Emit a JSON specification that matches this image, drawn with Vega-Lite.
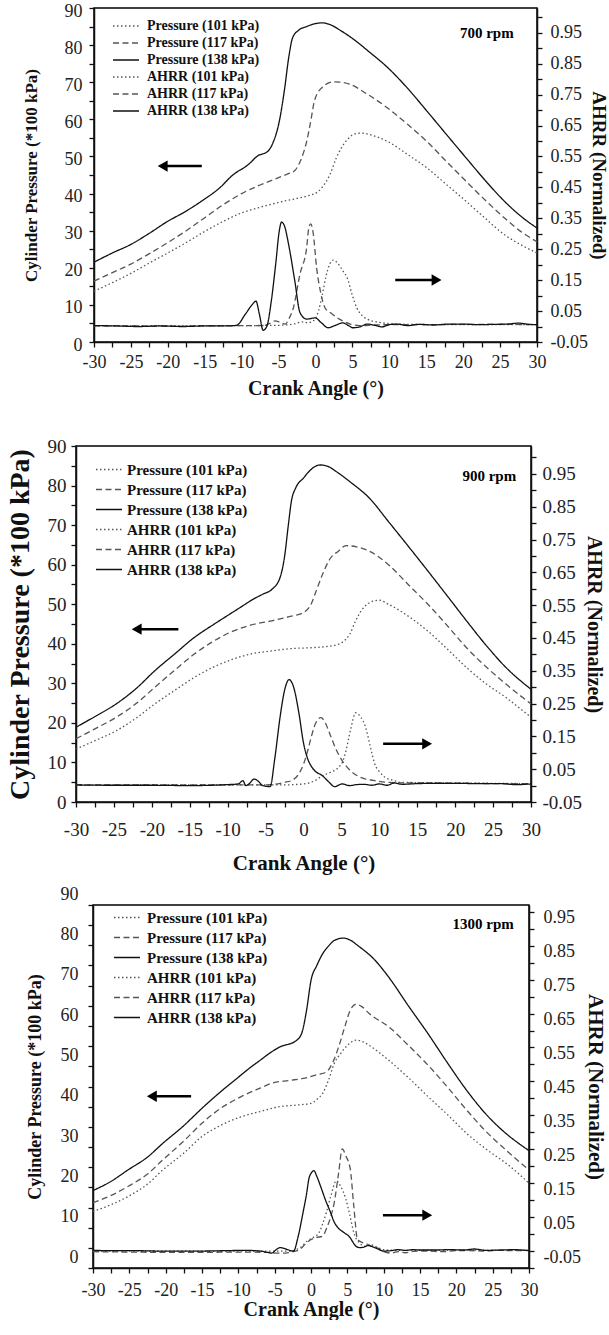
{
"$schema": "https://vega.github.io/schema/vega-lite/v6.json",
"padding": {"left": 5, "top": 1, "right": 0, "bottom": 0},
"background": "white",
"config": {
  "font": "Liberation Serif",
  "view": {"stroke": "black", "strokeWidth": 1.5},
  "axis": {"grid": false, "domainColor": "#111", "domainWidth": 1.5, "tickColor": "#111", "tickWidth": 1.3, "tickSize": 5, "labelColor": "#222", "titleColor": "#111", "labelFont": "Liberation Serif", "titleFont": "Liberation Serif", "titleFontWeight": "bold", "labelFlush": false, "labelOverlap": false, "labelBound": false},
  "legend": {"symbolType": "stroke", "symbolSize": 676, "symbolStrokeWidth": 1.4, "labelFont": "Liberation Serif", "labelFontWeight": "bold", "labelColor": "#111", "padding": 0, "labelLimit": 300},
  "title": {"font": "Liberation Serif"}
},
"datasets": {
"arrows": [
 {"panel": 700, "tail": -15.4, "head": -20.7, "p": 47.4, "dir": "left"},
 {"panel": 700, "tail": 10.8, "head": 16.4, "p": 16.7, "dir": "right"},
 {"panel": 900, "tail": -16.5, "head": -22.0, "p": 43.7, "dir": "left"},
 {"panel": 900, "tail": 10.5, "head": 16.3, "p": 14.7, "dir": "right"},
 {"panel": 1300, "tail": -16.5, "head": -21.9, "p": 42.6, "dir": "left"},
 {"panel": 1300, "tail": 9.9, "head": 16.0, "p": 13.1, "dir": "right"}
],
"notes": [
 {"panel": 700, "a": 23.2, "p": 83.3, "t": "700 rpm"},
 {"panel": 900, "a": 24.5, "p": 82.4, "t": "900 rpm"},
 {"panel": 1300, "a": 23.7, "p": 85.3, "t": "1300 rpm"}
],
"d700": [
{"s":"P101","a":-30,"v":13.7},{"s":"P101","a":-27.5,"v":16},{"s":"P101","a":-25,"v":18.5},{"s":"P101","a":-22.5,"v":21.3},{"s":"P101","a":-20,"v":24},{"s":"P101","a":-17.5,"v":26.8},{"s":"P101","a":-15,"v":29.8},{"s":"P101","a":-12.5,"v":32.5},{"s":"P101","a":-10,"v":34.8},{"s":"P101","a":-7.5,"v":36.3},{"s":"P101","a":-4.4,"v":37.9},{"s":"P101","a":-2.5,"v":38.7},{"s":"P101","a":-1.2,"v":39.3},{"s":"P101","a":0.4,"v":40.6},{"s":"P101","a":1.2,"v":42.5},{"s":"P101","a":2,"v":45.3},{"s":"P101","a":2.8,"v":49.5},{"s":"P101","a":3.5,"v":52.3},{"s":"P101","a":4.3,"v":54.5},{"s":"P101","a":5.1,"v":55.9},{"s":"P101","a":6.2,"v":56.3},{"s":"P101","a":7.5,"v":55.8},{"s":"P101","a":9.8,"v":54},{"s":"P101","a":12.5,"v":50.5},{"s":"P101","a":15.1,"v":46.9},{"s":"P101","a":17.7,"v":42.5},{"s":"P101","a":20.4,"v":37.9},{"s":"P101","a":23,"v":33.3},{"s":"P101","a":25.6,"v":28.9},{"s":"P101","a":28,"v":26},{"s":"P101","a":30,"v":24},
{"s":"P117","a":-30,"v":16.4},{"s":"P117","a":-27.5,"v":18.7},{"s":"P117","a":-25,"v":21},{"s":"P117","a":-22.5,"v":23.8},{"s":"P117","a":-20,"v":26.8},{"s":"P117","a":-17.5,"v":30},{"s":"P117","a":-15,"v":33.5},{"s":"P117","a":-12.5,"v":37},{"s":"P117","a":-10,"v":40},{"s":"P117","a":-7.5,"v":42.3},{"s":"P117","a":-5,"v":44.3},{"s":"P117","a":-3.5,"v":45.5},{"s":"P117","a":-2.8,"v":46.2},{"s":"P117","a":-2,"v":49},{"s":"P117","a":-1.2,"v":54},{"s":"P117","a":-0.6,"v":60},{"s":"P117","a":-0.2,"v":64.5},{"s":"P117","a":0.4,"v":67.5},{"s":"P117","a":0.9,"v":68.6},{"s":"P117","a":1.8,"v":69.8},{"s":"P117","a":2.5,"v":70.1},{"s":"P117","a":3.5,"v":70},{"s":"P117","a":4.6,"v":69.5},{"s":"P117","a":7,"v":66.8},{"s":"P117","a":9.8,"v":63},{"s":"P117","a":12.5,"v":58.6},{"s":"P117","a":15.1,"v":54},{"s":"P117","a":17.7,"v":48.7},{"s":"P117","a":20.4,"v":43.3},{"s":"P117","a":23,"v":38.2},{"s":"P117","a":25.6,"v":33.4},{"s":"P117","a":28,"v":29.5},{"s":"P117","a":30,"v":27},
{"s":"P138","a":-30,"v":21.5},{"s":"P138","a":-27.5,"v":24},{"s":"P138","a":-25,"v":26.3},{"s":"P138","a":-22.5,"v":29.3},{"s":"P138","a":-20.2,"v":32.3},{"s":"P138","a":-17.5,"v":35.3},{"s":"P138","a":-15.4,"v":38},{"s":"P138","a":-13,"v":41.5},{"s":"P138","a":-11.2,"v":45},{"s":"P138","a":-9.1,"v":47.8},{"s":"P138","a":-7.8,"v":50.2},{"s":"P138","a":-6.5,"v":51.3},{"s":"P138","a":-5.8,"v":53.5},{"s":"P138","a":-4.9,"v":59.5},{"s":"P138","a":-4.2,"v":68},{"s":"P138","a":-3.6,"v":77},{"s":"P138","a":-3.1,"v":82},{"s":"P138","a":-2.3,"v":84},{"s":"P138","a":-1.2,"v":85},{"s":"P138","a":0,"v":85.8},{"s":"P138","a":0.9,"v":86},{"s":"P138","a":2,"v":85.5},{"s":"P138","a":3.5,"v":83.8},{"s":"P138","a":5,"v":81.8},{"s":"P138","a":7.2,"v":78.3},{"s":"P138","a":9.8,"v":73.9},{"s":"P138","a":12.5,"v":68.3},{"s":"P138","a":15.1,"v":62.2},{"s":"P138","a":17.7,"v":56},{"s":"P138","a":20.4,"v":49.6},{"s":"P138","a":23,"v":43.5},{"s":"P138","a":25.6,"v":37.9},{"s":"P138","a":28,"v":33.6},{"s":"P138","a":30,"v":30.7},
{"s":"A101","a":-30,"v":0.002},{"s":"A101","a":-20,"v":0.002},{"s":"A101","a":-10,"v":0.003},{"s":"A101","a":-5,"v":0.004},{"s":"A101","a":-3,"v":0.008},{"s":"A101","a":-1.8,"v":0.015},{"s":"A101","a":-1,"v":0.012},{"s":"A101","a":-0.2,"v":0.02},{"s":"A101","a":0.4,"v":0.05},{"s":"A101","a":0.9,"v":0.1},{"s":"A101","a":1.4,"v":0.16},{"s":"A101","a":1.9,"v":0.2},{"s":"A101","a":2.4,"v":0.215},{"s":"A101","a":3.0,"v":0.205},{"s":"A101","a":3.7,"v":0.18},{"s":"A101","a":4.3,"v":0.157},{"s":"A101","a":5,"v":0.1},{"s":"A101","a":5.6,"v":0.06},{"s":"A101","a":6.3,"v":0.036},{"s":"A101","a":7,"v":0.024},{"s":"A101","a":8.3,"v":0.015},{"s":"A101","a":9.7,"v":0.01},{"s":"A101","a":11,"v":0.008},{"s":"A101","a":13,"v":0.007},{"s":"A101","a":20,"v":0.006},{"s":"A101","a":30,"v":0.006},
{"s":"A117","a":-30,"v":0.002},{"s":"A117","a":-25,"v":0.002},{"s":"A117","a":-20,"v":0.001},{"s":"A117","a":-15,"v":0.002},{"s":"A117","a":-10,"v":0.003},{"s":"A117","a":-7,"v":0.003},{"s":"A117","a":-6.2,"v":0.01},{"s":"A117","a":-5.5,"v":0.018},{"s":"A117","a":-4.8,"v":0.014},{"s":"A117","a":-4.1,"v":0.008},{"s":"A117","a":-3.6,"v":0.025},{"s":"A117","a":-3.0,"v":0.06},{"s":"A117","a":-2.1,"v":0.17},{"s":"A117","a":-1.2,"v":0.255},{"s":"A117","a":-0.9,"v":0.32},{"s":"A117","a":-0.65,"v":0.332},{"s":"A117","a":-0.3,"v":0.3},{"s":"A117","a":0.15,"v":0.19},{"s":"A117","a":0.7,"v":0.11},{"s":"A117","a":1.3,"v":0.06},{"s":"A117","a":2,"v":0.045},{"s":"A117","a":3.3,"v":0.023},{"s":"A117","a":4.7,"v":0.008},{"s":"A117","a":6,"v":0.003},{"s":"A117","a":8,"v":0.005},{"s":"A117","a":10,"v":0.006},{"s":"A117","a":15,"v":0.006},{"s":"A117","a":20,"v":0.007},{"s":"A117","a":25,"v":0.007},{"s":"A117","a":30,"v":0.006},
{"s":"A138","a":-30,"v":0.003},{"s":"A138","a":-27,"v":0.002},{"s":"A138","a":-24,"v":0.0},{"s":"A138","a":-21,"v":0.002},{"s":"A138","a":-18,"v":0.0},{"s":"A138","a":-15,"v":0.002},{"s":"A138","a":-12,"v":0.002},{"s":"A138","a":-10.7,"v":0.004},{"s":"A138","a":-9.5,"v":0.04},{"s":"A138","a":-8.6,"v":0.07},{"s":"A138","a":-8.06,"v":0.082},{"s":"A138","a":-7.6,"v":0.04},{"s":"A138","a":-7.1,"v":-0.012},{"s":"A138","a":-6.6,"v":0.0},{"s":"A138","a":-6,"v":0.08},{"s":"A138","a":-5.4,"v":0.2},{"s":"A138","a":-4.9,"v":0.31},{"s":"A138","a":-4.6,"v":0.338},{"s":"A138","a":-4.2,"v":0.325},{"s":"A138","a":-3.6,"v":0.26},{"s":"A138","a":-2.8,"v":0.147},{"s":"A138","a":-2.1,"v":0.045},{"s":"A138","a":-1.2,"v":0.024},{"s":"A138","a":-0.6,"v":0.026},{"s":"A138","a":-0.06,"v":0.028},{"s":"A138","a":0.8,"v":0.012},{"s":"A138","a":1.7,"v":-0.004},{"s":"A138","a":2.7,"v":0.004},{"s":"A138","a":3.7,"v":0.012},{"s":"A138","a":4.4,"v":0.004},{"s":"A138","a":5.1,"v":-0.004},{"s":"A138","a":6,"v":-0.001},{"s":"A138","a":7,"v":0.008},{"s":"A138","a":8,"v":0.004},{"s":"A138","a":9,"v":-0.001},{"s":"A138","a":10,"v":0.006},{"s":"A138","a":11,"v":0.008},{"s":"A138","a":12.5,"v":0.003},{"s":"A138","a":14,"v":0.007},{"s":"A138","a":16,"v":0.005},{"s":"A138","a":18,"v":0.008},{"s":"A138","a":20,"v":0.008},{"s":"A138","a":22,"v":0.006},{"s":"A138","a":24,"v":0.007},{"s":"A138","a":26,"v":0.008},{"s":"A138","a":27.5,"v":0.011},{"s":"A138","a":29,"v":0.007},{"s":"A138","a":30,"v":0.006}
],
"d900": [
{"s":"P101","a":-30,"v":13.4},{"s":"P101","a":-27.5,"v":15.5},{"s":"P101","a":-24.7,"v":18},{"s":"P101","a":-22,"v":21.3},{"s":"P101","a":-19.6,"v":24.8},{"s":"P101","a":-17,"v":28.2},{"s":"P101","a":-14.4,"v":31.5},{"s":"P101","a":-12,"v":34},{"s":"P101","a":-9.3,"v":36.1},{"s":"P101","a":-7,"v":37.4},{"s":"P101","a":-4.2,"v":38.2},{"s":"P101","a":-1.5,"v":38.8},{"s":"P101","a":1,"v":39},{"s":"P101","a":3,"v":39.3},{"s":"P101","a":4.6,"v":39.9},{"s":"P101","a":5.2,"v":40.5},{"s":"P101","a":6.1,"v":42.4},{"s":"P101","a":6.8,"v":45.5},{"s":"P101","a":7.6,"v":48.3},{"s":"P101","a":8.4,"v":50},{"s":"P101","a":9.2,"v":50.8},{"s":"P101","a":10,"v":51},{"s":"P101","a":11.2,"v":50},{"s":"P101","a":13.8,"v":47},{"s":"P101","a":16.4,"v":43.2},{"s":"P101","a":19,"v":38.6},{"s":"P101","a":21.5,"v":34},{"s":"P101","a":24,"v":30},{"s":"P101","a":26.7,"v":26.4},{"s":"P101","a":30,"v":21.4},
{"s":"P117","a":-30,"v":16},{"s":"P117","a":-27.5,"v":18.5},{"s":"P117","a":-24.7,"v":21.4},{"s":"P117","a":-22,"v":25},{"s":"P117","a":-19.6,"v":29},{"s":"P117","a":-17,"v":33.3},{"s":"P117","a":-14.4,"v":37.4},{"s":"P117","a":-12,"v":40.5},{"s":"P117","a":-9.3,"v":43.2},{"s":"P117","a":-7,"v":44.7},{"s":"P117","a":-4.2,"v":45.8},{"s":"P117","a":-2,"v":46.8},{"s":"P117","a":0,"v":47.9},{"s":"P117","a":1,"v":50},{"s":"P117","a":1.7,"v":53.5},{"s":"P117","a":2.5,"v":57.5},{"s":"P117","a":3.5,"v":61.5},{"s":"P117","a":4.6,"v":63.4},{"s":"P117","a":5.6,"v":64.8},{"s":"P117","a":7,"v":64.5},{"s":"P117","a":8.7,"v":63.4},{"s":"P117","a":11.2,"v":60},{"s":"P117","a":13.8,"v":55},{"s":"P117","a":16.4,"v":50},{"s":"P117","a":19,"v":44.5},{"s":"P117","a":21.5,"v":39},{"s":"P117","a":24,"v":34.3},{"s":"P117","a":26.7,"v":29.8},{"s":"P117","a":30,"v":24.8},
{"s":"P138","a":-30,"v":18.9},{"s":"P138","a":-27.5,"v":21.6},{"s":"P138","a":-24.7,"v":24.8},{"s":"P138","a":-22,"v":28.8},{"s":"P138","a":-19.6,"v":33.2},{"s":"P138","a":-17,"v":37.4},{"s":"P138","a":-14.4,"v":41.6},{"s":"P138","a":-12,"v":44.7},{"s":"P138","a":-9.8,"v":47.4},{"s":"P138","a":-8,"v":49.6},{"s":"P138","a":-6.7,"v":51.2},{"s":"P138","a":-5.3,"v":52.6},{"s":"P138","a":-4.2,"v":53.7},{"s":"P138","a":-3.1,"v":56.7},{"s":"P138","a":-2.5,"v":62},{"s":"P138","a":-2,"v":70},{"s":"P138","a":-1.6,"v":76},{"s":"P138","a":-1,"v":79.5},{"s":"P138","a":0,"v":81.9},{"s":"P138","a":0.7,"v":83.5},{"s":"P138","a":1.5,"v":84.8},{"s":"P138","a":2.2,"v":85.2},{"s":"P138","a":3,"v":85},{"s":"P138","a":4.5,"v":83.3},{"s":"P138","a":6.1,"v":81},{"s":"P138","a":8.7,"v":76.8},{"s":"P138","a":11.2,"v":70.9},{"s":"P138","a":13.8,"v":64.7},{"s":"P138","a":16.4,"v":58.4},{"s":"P138","a":19,"v":52},{"s":"P138","a":21.5,"v":45.8},{"s":"P138","a":24,"v":39.8},{"s":"P138","a":26.7,"v":34},{"s":"P138","a":30,"v":28.5},
{"s":"A101","a":-30,"v":0.002},{"s":"A101","a":-25,"v":0.001},{"s":"A101","a":-20,"v":0.002},{"s":"A101","a":-15,"v":0.002},{"s":"A101","a":-10,"v":0.002},{"s":"A101","a":-3,"v":0.002},{"s":"A101","a":0,"v":0.005},{"s":"A101","a":1.5,"v":0.015},{"s":"A101","a":2.5,"v":0.03},{"s":"A101","a":3.5,"v":0.04},{"s":"A101","a":4.6,"v":0.055},{"s":"A101","a":5.2,"v":0.075},{"s":"A101","a":5.6,"v":0.106},{"s":"A101","a":6.2,"v":0.17},{"s":"A101","a":6.9,"v":0.222},{"s":"A101","a":7.5,"v":0.21},{"s":"A101","a":8.2,"v":0.177},{"s":"A101","a":8.8,"v":0.12},{"s":"A101","a":9.4,"v":0.066},{"s":"A101","a":10.1,"v":0.04},{"s":"A101","a":10.7,"v":0.026},{"s":"A101","a":12,"v":0.015},{"s":"A101","a":12.8,"v":0.01},{"s":"A101","a":16,"v":0.009},{"s":"A101","a":20,"v":0.008},{"s":"A101","a":25,"v":0.007},{"s":"A101","a":30,"v":0.006},
{"s":"A117","a":-30,"v":0.002},{"s":"A117","a":-20,"v":0.002},{"s":"A117","a":-10,"v":0.002},{"s":"A117","a":-6,"v":0.002},{"s":"A117","a":-4.2,"v":0.003},{"s":"A117","a":-2.5,"v":0.01},{"s":"A117","a":-1.6,"v":0.015},{"s":"A117","a":-0.8,"v":0.03},{"s":"A117","a":0,"v":0.065},{"s":"A117","a":0.6,"v":0.11},{"s":"A117","a":1,"v":0.146},{"s":"A117","a":1.6,"v":0.19},{"s":"A117","a":2.3,"v":0.207},{"s":"A117","a":2.9,"v":0.19},{"s":"A117","a":3.5,"v":0.156},{"s":"A117","a":4.3,"v":0.11},{"s":"A117","a":5.1,"v":0.076},{"s":"A117","a":6,"v":0.05},{"s":"A117","a":7.1,"v":0.03},{"s":"A117","a":8.2,"v":0.02},{"s":"A117","a":9.2,"v":0.016},{"s":"A117","a":11,"v":0.01},{"s":"A117","a":14,"v":0.008},{"s":"A117","a":18,"v":0.008},{"s":"A117","a":22,"v":0.007},{"s":"A117","a":26,"v":0.006},{"s":"A117","a":30,"v":0.006},
{"s":"A138","a":-30,"v":0.002},{"s":"A138","a":-25,"v":0.001},{"s":"A138","a":-20,"v":0.001},{"s":"A138","a":-15,"v":0.0},{"s":"A138","a":-10,"v":0.003},{"s":"A138","a":-8.6,"v":0.005},{"s":"A138","a":-8,"v":0.015},{"s":"A138","a":-7.6,"v":0.0},{"s":"A138","a":-7.2,"v":0.005},{"s":"A138","a":-6.5,"v":0.02},{"s":"A138","a":-5.9,"v":0.012},{"s":"A138","a":-5.4,"v":0.0},{"s":"A138","a":-4.4,"v":-0.003},{"s":"A138","a":-3.8,"v":0.08},{"s":"A138","a":-3.1,"v":0.207},{"s":"A138","a":-2.5,"v":0.29},{"s":"A138","a":-1.9,"v":0.323},{"s":"A138","a":-1.3,"v":0.3},{"s":"A138","a":-0.6,"v":0.22},{"s":"A138","a":0,"v":0.13},{"s":"A138","a":0.5,"v":0.085},{"s":"A138","a":1,"v":0.06},{"s":"A138","a":1.5,"v":0.045},{"s":"A138","a":2.5,"v":0.03},{"s":"A138","a":3.3,"v":0.012},{"s":"A138","a":4.1,"v":-0.003},{"s":"A138","a":5.1,"v":0.005},{"s":"A138","a":6.1,"v":0.0},{"s":"A138","a":7,"v":0.003},{"s":"A138","a":8,"v":0.004},{"s":"A138","a":9,"v":0.001},{"s":"A138","a":10,"v":0.005},{"s":"A138","a":11,"v":0.001},{"s":"A138","a":12,"v":0.008},{"s":"A138","a":13,"v":0.004},{"s":"A138","a":15,"v":0.006},{"s":"A138","a":17,"v":0.007},{"s":"A138","a":20,"v":0.007},{"s":"A138","a":23,"v":0.006},{"s":"A138","a":26,"v":0.006},{"s":"A138","a":28,"v":0.003},{"s":"A138","a":30,"v":0.005}
],
"d1300": [
{"s":"P101","a":-30,"v":14},{"s":"P101","a":-27.5,"v":15.7},{"s":"P101","a":-25.2,"v":17.7},{"s":"P101","a":-22.5,"v":20.8},{"s":"P101","a":-20.4,"v":24.3},{"s":"P101","a":-17.5,"v":28.5},{"s":"P101","a":-15,"v":32.6},{"s":"P101","a":-12.5,"v":35.3},{"s":"P101","a":-9.6,"v":37.5},{"s":"P101","a":-7,"v":38.8},{"s":"P101","a":-4.3,"v":40},{"s":"P101","a":-2,"v":40.4},{"s":"P101","a":0,"v":40.8},{"s":"P101","a":0.8,"v":41.8},{"s":"P101","a":1.6,"v":43.3},{"s":"P101","a":2.4,"v":46.5},{"s":"P101","a":3.2,"v":50.7},{"s":"P101","a":4,"v":53},{"s":"P101","a":4.8,"v":54.8},{"s":"P101","a":6.2,"v":56.5},{"s":"P101","a":7,"v":56.2},{"s":"P101","a":8,"v":55.2},{"s":"P101","a":10.7,"v":51.5},{"s":"P101","a":13.4,"v":47.2},{"s":"P101","a":16.1,"v":42.5},{"s":"P101","a":18.8,"v":38},{"s":"P101","a":21.4,"v":33.4},{"s":"P101","a":24,"v":29.6},{"s":"P101","a":26.8,"v":26},{"s":"P101","a":28.5,"v":23.5},{"s":"P101","a":30,"v":21},
{"s":"P117","a":-30,"v":16.2},{"s":"P117","a":-27.5,"v":18},{"s":"P117","a":-25.2,"v":20.2},{"s":"P117","a":-22.5,"v":23.3},{"s":"P117","a":-20.4,"v":26.8},{"s":"P117","a":-17.5,"v":31.5},{"s":"P117","a":-15,"v":35.9},{"s":"P117","a":-12.5,"v":39.5},{"s":"P117","a":-9.6,"v":42.5},{"s":"P117","a":-7,"v":44.6},{"s":"P117","a":-5.4,"v":45.8},{"s":"P117","a":-3,"v":46.5},{"s":"P117","a":-1.1,"v":47},{"s":"P117","a":1,"v":48},{"s":"P117","a":2.1,"v":48.6},{"s":"P117","a":3,"v":51},{"s":"P117","a":3.8,"v":54.8},{"s":"P117","a":4.6,"v":59.5},{"s":"P117","a":5.4,"v":63.9},{"s":"P117","a":6.2,"v":65.4},{"s":"P117","a":7,"v":64.8},{"s":"P117","a":8,"v":63.1},{"s":"P117","a":10.7,"v":59.8},{"s":"P117","a":13.4,"v":55.2},{"s":"P117","a":16.1,"v":50.3},{"s":"P117","a":18.8,"v":44.8},{"s":"P117","a":21.4,"v":39.2},{"s":"P117","a":24,"v":34},{"s":"P117","a":26.8,"v":29.3},{"s":"P117","a":28.5,"v":26.6},{"s":"P117","a":30,"v":24.3},
{"s":"P138","a":-30,"v":19.2},{"s":"P138","a":-27.5,"v":21.5},{"s":"P138","a":-25.2,"v":24.3},{"s":"P138","a":-22.5,"v":27.5},{"s":"P138","a":-20.4,"v":30.9},{"s":"P138","a":-17.5,"v":35.3},{"s":"P138","a":-15,"v":39.6},{"s":"P138","a":-12.5,"v":43.6},{"s":"P138","a":-10.2,"v":47},{"s":"P138","a":-8.5,"v":49.5},{"s":"P138","a":-7,"v":51.5},{"s":"P138","a":-5.5,"v":53.5},{"s":"P138","a":-4.3,"v":54.8},{"s":"P138","a":-2.1,"v":56.3},{"s":"P138","a":-1.3,"v":58.1},{"s":"P138","a":-0.6,"v":64},{"s":"P138","a":0,"v":71.3},{"s":"P138","a":0.8,"v":75},{"s":"P138","a":1.6,"v":77.9},{"s":"P138","a":2.5,"v":80},{"s":"P138","a":3.2,"v":81.2},{"s":"P138","a":4.5,"v":81.8},{"s":"P138","a":5.5,"v":81.2},{"s":"P138","a":6.4,"v":80},{"s":"P138","a":8.6,"v":76.7},{"s":"P138","a":10.7,"v":72.1},{"s":"P138","a":13.4,"v":65},{"s":"P138","a":16.1,"v":58.1},{"s":"P138","a":18.8,"v":50.8},{"s":"P138","a":21.4,"v":44.1},{"s":"P138","a":24,"v":38.3},{"s":"P138","a":26.8,"v":33.4},{"s":"P138","a":28.5,"v":31},{"s":"P138","a":30,"v":29.1},
{"s":"A101","a":-30,"v":0.0},{"s":"A101","a":-20,"v":0.0},{"s":"A101","a":-10,"v":0.0},{"s":"A101","a":-3,"v":0.0},{"s":"A101","a":-1.5,"v":0.01},{"s":"A101","a":-0.5,"v":0.03},{"s":"A101","a":0.3,"v":0.04},{"s":"A101","a":1.1,"v":0.054},{"s":"A101","a":1.6,"v":0.08},{"s":"A101","a":2.1,"v":0.113},{"s":"A101","a":2.7,"v":0.16},{"s":"A101","a":3.5,"v":0.207},{"s":"A101","a":4.1,"v":0.19},{"s":"A101","a":4.8,"v":0.153},{"s":"A101","a":5.3,"v":0.11},{"s":"A101","a":5.9,"v":0.054},{"s":"A101","a":6.6,"v":0.025},{"s":"A101","a":7.5,"v":0.014},{"s":"A101","a":8.2,"v":0.019},{"s":"A101","a":9,"v":0.012},{"s":"A101","a":10,"v":0.004},{"s":"A101","a":12,"v":0.002},{"s":"A101","a":16,"v":0.002},{"s":"A101","a":20,"v":0.003},{"s":"A101","a":25,"v":0.002},{"s":"A101","a":30,"v":0.002},
{"s":"A117","a":-30,"v":-0.002},{"s":"A117","a":-25,"v":-0.003},{"s":"A117","a":-20,"v":-0.004},{"s":"A117","a":-15,"v":-0.004},{"s":"A117","a":-10,"v":-0.003},{"s":"A117","a":-6,"v":-0.004},{"s":"A117","a":-5,"v":-0.006},{"s":"A117","a":-3.5,"v":-0.006},{"s":"A117","a":-2.5,"v":-0.002},{"s":"A117","a":-1.6,"v":0.004},{"s":"A117","a":-0.8,"v":0.02},{"s":"A117","a":0,"v":0.034},{"s":"A117","a":0.8,"v":0.04},{"s":"A117","a":1.6,"v":0.044},{"s":"A117","a":2.2,"v":0.07},{"s":"A117","a":2.7,"v":0.1},{"s":"A117","a":3.2,"v":0.143},{"s":"A117","a":3.8,"v":0.23},{"s":"A117","a":4.3,"v":0.301},{"s":"A117","a":4.8,"v":0.28},{"s":"A117","a":5.4,"v":0.242},{"s":"A117","a":5.9,"v":0.13},{"s":"A117","a":6.4,"v":0.034},{"s":"A117","a":7.1,"v":0.025},{"s":"A117","a":7.8,"v":0.02},{"s":"A117","a":8.5,"v":0.012},{"s":"A117","a":9.2,"v":0.009},{"s":"A117","a":10,"v":-0.002},{"s":"A117","a":11,"v":-0.006},{"s":"A117","a":12,"v":-0.002},{"s":"A117","a":13,"v":-0.005},{"s":"A117","a":14,"v":-0.001},{"s":"A117","a":16,"v":0.0},{"s":"A117","a":18,"v":-0.002},{"s":"A117","a":20,"v":0.001},{"s":"A117","a":22,"v":0.001},{"s":"A117","a":24,"v":0.0},{"s":"A117","a":26,"v":0.002},{"s":"A117","a":28,"v":0.001},{"s":"A117","a":30,"v":0.002},
{"s":"A138","a":-30,"v":0.002},{"s":"A138","a":-27,"v":0.001},{"s":"A138","a":-24,"v":0.001},{"s":"A138","a":-21,"v":0.0},{"s":"A138","a":-18,"v":0.0},{"s":"A138","a":-15,"v":0.0},{"s":"A138","a":-12,"v":0.001},{"s":"A138","a":-9,"v":0.002},{"s":"A138","a":-7,"v":0.0},{"s":"A138","a":-6,"v":-0.004},{"s":"A138","a":-5.4,"v":-0.006},{"s":"A138","a":-4.8,"v":0.004},{"s":"A138","a":-4.3,"v":0.01},{"s":"A138","a":-3.7,"v":0.008},{"s":"A138","a":-3.2,"v":0.004},{"s":"A138","a":-2.4,"v":0.0},{"s":"A138","a":-1.8,"v":0.04},{"s":"A138","a":-1.1,"v":0.113},{"s":"A138","a":-0.6,"v":0.17},{"s":"A138","a":-0.3,"v":0.212},{"s":"A138","a":0.1,"v":0.232},{"s":"A138","a":0.4,"v":0.237},{"s":"A138","a":0.8,"v":0.22},{"s":"A138","a":1.3,"v":0.192},{"s":"A138","a":2,"v":0.15},{"s":"A138","a":2.7,"v":0.113},{"s":"A138","a":3.2,"v":0.085},{"s":"A138","a":3.7,"v":0.069},{"s":"A138","a":4.5,"v":0.055},{"s":"A138","a":5.4,"v":0.039},{"s":"A138","a":5.8,"v":0.025},{"s":"A138","a":6.2,"v":0.014},{"s":"A138","a":6.7,"v":0.01},{"s":"A138","a":7.2,"v":0.011},{"s":"A138","a":7.8,"v":0.016},{"s":"A138","a":8.3,"v":0.014},{"s":"A138","a":9,"v":0.008},{"s":"A138","a":10,"v":0.0},{"s":"A138","a":11,"v":0.001},{"s":"A138","a":12,"v":0.004},{"s":"A138","a":13,"v":0.002},{"s":"A138","a":14,"v":0.004},{"s":"A138","a":15,"v":0.003},{"s":"A138","a":17,"v":0.003},{"s":"A138","a":19,"v":0.004},{"s":"A138","a":21,"v":0.003},{"s":"A138","a":22.5,"v":0.006},{"s":"A138","a":24,"v":0.002},{"s":"A138","a":26,"v":0.003},{"s":"A138","a":28,"v":0.004},{"s":"A138","a":30,"v":0.001}
],
"blank": [{"k": 0}]
},
"spacing": 37,
"resolve": {"scale": {"color": "independent", "strokeDash": "independent"}, "legend": {"color": "independent", "strokeDash": "independent"}},
"vconcat": [
{
"hconcat": [
{"width": 28, "height": 1, "data": {"name": "blank"}, "mark": {"type": "point", "opacity": 0}, "view": {"stroke": null}},
{
 "width": 443, "height": 334,
 "layer": [
  {"layer": [
   {"data": {"name": "d700"}, "transform": [{"filter": "indexof(datum.s,'P')==0"}],
    "mark": {"type": "line", "interpolate": "monotone", "strokeWidth": 1.3},
    "encoding": {
     "x": {"field": "a", "type": "quantitative", "scale": {"domain": [-30, 30], "nice": false, "zero": false},
      "axis": {"title": "Crank Angle (°)", "values": [-30,-27.5,-25,-22.5,-20,-17.5,-15,-12.5,-10,-7.5,-5,-2.5,0,2.5,5,7.5,10,12.5,15,17.5,20,22.5,25,27.5,30], "labelExpr": "datum.value % 5 == 0 ? (datum.value < 0 ? '-' + abs(datum.value) : '' + datum.value) : ''", "labelFontSize": 18, "labelPadding": 6, "titleFontSize": 20, "titlePadding": 7}},
     "y": {"field": "v", "type": "quantitative", "scale": {"domain": [0, 90], "nice": false, "zero": false},
      "axis": {"title": "Cylinder Pressure (*100 kPa)", "values": [0,5,10,15,20,25,30,35,40,45,50,55,60,65,70,75,80,85,90], "labelExpr": "datum.value % 10 == 0 ? '' + datum.value : ''", "labelFontSize": 18, "labelPadding": 7, "labelOffset": 3, "titleFontSize": 17, "titlePadding": 24}},
     "color": {"field": "s", "type": "nominal", "scale": {"domain": ["P101","P117","P138","A101","A117","A138"], "range": ["#555","#555","#111","#555","#555","#111"]},
      "legend": {"orient": "none", "legendX": 46, "legendY": 11, "title": null, "labelFontSize": 14, "clipHeight": 14, "rowPadding": 3, "labelOffset": 7, "labelExpr": "(indexof(datum.label,'P')==0 ? 'Pressure (' : 'AHRR (') + substring(datum.label,1) + ' kPa)'"}},
     "strokeDash": {"field": "s", "type": "nominal", "scale": {"domain": ["P101","P117","P138","A101","A117","A138"], "range": [[1.5,2.5],[6,3.5],[1,0],[1.5,2.5],[6,3.5],[1,0]]},
      "legend": {"orient": "none", "legendX": 46, "legendY": 11, "title": null, "labelFontSize": 14, "clipHeight": 14, "rowPadding": 3, "labelOffset": 7, "labelExpr": "(indexof(datum.label,'P')==0 ? 'Pressure (' : 'AHRR (') + substring(datum.label,1) + ' kPa)'"}}
    }},
   {"data": {"name": "arrows"}, "transform": [{"filter": "datum.panel == 700"}],
    "mark": {"type": "rule", "strokeWidth": 2.5, "color": "black"},
    "encoding": {
     "x": {"field": "tail", "type": "quantitative", "scale": {"domain": [-30, 30], "nice": false, "zero": false},
      "axis": {"title": "Crank Angle (°)", "values": [-30,-27.5,-25,-22.5,-20,-17.5,-15,-12.5,-10,-7.5,-5,-2.5,0,2.5,5,7.5,10,12.5,15,17.5,20,22.5,25,27.5,30], "labelExpr": "datum.value % 5 == 0 ? (datum.value < 0 ? '-' + abs(datum.value) : '' + datum.value) : ''", "labelFontSize": 18, "labelPadding": 6, "titleFontSize": 20, "titlePadding": 7}},
     "x2": {"field": "head"},
     "y": {"field": "p", "type": "quantitative", "scale": {"domain": [0, 90], "nice": false, "zero": false},
      "axis": {"title": "Cylinder Pressure (*100 kPa)", "values": [0,5,10,15,20,25,30,35,40,45,50,55,60,65,70,75,80,85,90], "labelExpr": "datum.value % 10 == 0 ? '' + datum.value : ''", "labelFontSize": 18, "labelPadding": 7, "labelOffset": 3, "titleFontSize": 17, "titlePadding": 24}}}},
   {"data": {"name": "arrows"}, "transform": [{"filter": "datum.panel == 700"}],
    "mark": {"type": "point", "filled": true, "color": "black", "size": 130, "opacity": 1},
    "encoding": {
     "x": {"field": "head", "type": "quantitative", "scale": {"domain": [-30, 30], "nice": false, "zero": false},
      "axis": {"title": "Crank Angle (°)", "values": [-30,-27.5,-25,-22.5,-20,-17.5,-15,-12.5,-10,-7.5,-5,-2.5,0,2.5,5,7.5,10,12.5,15,17.5,20,22.5,25,27.5,30], "labelExpr": "datum.value % 5 == 0 ? (datum.value < 0 ? '-' + abs(datum.value) : '' + datum.value) : ''", "labelFontSize": 18, "labelPadding": 6, "titleFontSize": 20, "titlePadding": 7}},
     "y": {"field": "p", "type": "quantitative", "scale": {"domain": [0, 90], "nice": false, "zero": false},
      "axis": {"title": "Cylinder Pressure (*100 kPa)", "values": [0,5,10,15,20,25,30,35,40,45,50,55,60,65,70,75,80,85,90], "labelExpr": "datum.value % 10 == 0 ? '' + datum.value : ''", "labelFontSize": 18, "labelPadding": 7, "labelOffset": 3, "titleFontSize": 17, "titlePadding": 24}},
     "shape": {"field": "dir", "type": "nominal", "scale": {"domain": ["left","right"], "range": ["triangle-left","triangle-right"]}, "legend": null}}},
   {"data": {"name": "notes"}, "transform": [{"filter": "datum.panel == 700"}],
    "mark": {"type": "text", "font": "Liberation Serif", "fontWeight": "bold", "fontSize": 15, "color": "black"},
    "encoding": {
     "x": {"field": "a", "type": "quantitative", "scale": {"domain": [-30, 30], "nice": false, "zero": false},
      "axis": {"title": "Crank Angle (°)", "values": [-30,-27.5,-25,-22.5,-20,-17.5,-15,-12.5,-10,-7.5,-5,-2.5,0,2.5,5,7.5,10,12.5,15,17.5,20,22.5,25,27.5,30], "labelExpr": "datum.value % 5 == 0 ? (datum.value < 0 ? '-' + abs(datum.value) : '' + datum.value) : ''", "labelFontSize": 18, "labelPadding": 6, "titleFontSize": 20, "titlePadding": 7}},
     "y": {"field": "p", "type": "quantitative", "scale": {"domain": [0, 90], "nice": false, "zero": false},
      "axis": {"title": "Cylinder Pressure (*100 kPa)", "values": [0,5,10,15,20,25,30,35,40,45,50,55,60,65,70,75,80,85,90], "labelExpr": "datum.value % 10 == 0 ? '' + datum.value : ''", "labelFontSize": 18, "labelPadding": 7, "labelOffset": 3, "titleFontSize": 17, "titlePadding": 24}},
     "text": {"field": "t"}}}
  ]},
  {"data": {"name": "d700"}, "transform": [{"filter": "indexof(datum.s,'A')==0"}],
   "mark": {"type": "line", "interpolate": "monotone", "strokeWidth": 1.3},
   "encoding": {
    "x": {"field": "a", "type": "quantitative", "scale": {"domain": [-30, 30], "nice": false, "zero": false},
     "axis": {"title": "Crank Angle (°)", "values": [-30,-27.5,-25,-22.5,-20,-17.5,-15,-12.5,-10,-7.5,-5,-2.5,0,2.5,5,7.5,10,12.5,15,17.5,20,22.5,25,27.5,30], "labelExpr": "datum.value % 5 == 0 ? (datum.value < 0 ? '-' + abs(datum.value) : '' + datum.value) : ''", "labelFontSize": 18, "labelPadding": 6, "titleFontSize": 20, "titlePadding": 7}},
    "y": {"field": "v", "type": "quantitative", "scale": {"domain": [-0.05, 1.03], "nice": false, "zero": false},
     "axis": {"orient": "right", "title": "AHRR (Normalized)", "values": [-0.05,0,0.05,0.1,0.15,0.2,0.25,0.3,0.35,0.4,0.45,0.5,0.55,0.6,0.65,0.7,0.75,0.8,0.85,0.9,0.95,1.0], "labelExpr": "abs(round(datum.value*100)) % 10 == 5 ? (datum.value < 0 ? '-' : '') + format(abs(datum.value), '.2f') : ''", "labelFontSize": 18, "labelPadding": 8, "titleFontSize": 19, "titlePadding": 1}},
    "color": {"field": "s", "type": "nominal", "scale": {"domain": ["P101","P117","P138","A101","A117","A138"], "range": ["#555","#555","#111","#555","#555","#111"]},
     "legend": {"orient": "none", "legendX": 46, "legendY": 11, "title": null, "labelFontSize": 14, "clipHeight": 14, "rowPadding": 3, "labelOffset": 7, "labelExpr": "(indexof(datum.label,'P')==0 ? 'Pressure (' : 'AHRR (') + substring(datum.label,1) + ' kPa)'"}},
    "strokeDash": {"field": "s", "type": "nominal", "scale": {"domain": ["P101","P117","P138","A101","A117","A138"], "range": [[1.5,2.5],[6,3.5],[1,0],[1.5,2.5],[6,3.5],[1,0]]},
     "legend": {"orient": "none", "legendX": 46, "legendY": 11, "title": null, "labelFontSize": 14, "clipHeight": 14, "rowPadding": 3, "labelOffset": 7, "labelExpr": "(indexof(datum.label,'P')==0 ? 'Pressure (' : 'AHRR (') + substring(datum.label,1) + ' kPa)'"}}
   }}
 ],
 "resolve": {"scale": {"y": "independent"}}
}
],
"spacing": 0,
"bounds": "flush"
},
{
 "spacing": 10,
 "resolve": {"scale": {"color": "independent", "strokeDash": "independent"}, "legend": {"color": "independent", "strokeDash": "independent"}},
 "vconcat": [
 {
 "hconcat": [
 {"width": 10, "height": 1, "data": {"name": "blank"}, "mark": {"type": "point", "opacity": 0}, "view": {"stroke": null}},
 {
  "width": 455, "height": 356,
  "layer": [
   {"layer": [
    {"data": {"name": "d900"}, "transform": [{"filter": "indexof(datum.s,'P')==0"}],
     "mark": {"type": "line", "interpolate": "monotone", "strokeWidth": 1.3},
     "encoding": {
      "x": {"field": "a", "type": "quantitative", "scale": {"domain": [-30, 30], "nice": false, "zero": false},
       "axis": {"title": "Crank Angle (°)", "values": [-30,-27.5,-25,-22.5,-20,-17.5,-15,-12.5,-10,-7.5,-5,-2.5,0,2.5,5,7.5,10,12.5,15,17.5,20,22.5,25,27.5,30], "labelExpr": "datum.value % 5 == 0 ? (datum.value < 0 ? '-' + abs(datum.value) : '' + datum.value) : ''", "labelFontSize": 19, "labelPadding": 13, "titleFontSize": 21, "titlePadding": 13}},
      "y": {"field": "v", "type": "quantitative", "scale": {"domain": [0, 90], "nice": false, "zero": false},
       "axis": {"title": "Cylinder Pressure (*100 kPa)", "values": [0,5,10,15,20,25,30,35,40,45,50,55,60,65,70,75,80,85,90], "labelExpr": "datum.value % 10 == 0 ? '' + datum.value : ''", "labelFontSize": 19, "labelPadding": 5, "titleFontSize": 28, "titlePadding": 13}},
      "color": {"field": "s", "type": "nominal", "scale": {"domain": ["P101","P117","P138","A101","A117","A138"], "range": ["#555","#555","#111","#555","#555","#111"]},
       "legend": {"orient": "none", "legendX": 29, "legendY": 16, "title": null, "labelFontSize": 15, "clipHeight": 15, "rowPadding": 4, "labelOffset": 4, "labelExpr": "(indexof(datum.label,'P')==0 ? 'Pressure (' : 'AHRR (') + substring(datum.label,1) + ' kPa)'"}},
      "strokeDash": {"field": "s", "type": "nominal", "scale": {"domain": ["P101","P117","P138","A101","A117","A138"], "range": [[1.5,2.5],[6,3.5],[1,0],[1.5,2.5],[6,3.5],[1,0]]},
       "legend": {"orient": "none", "legendX": 29, "legendY": 16, "title": null, "labelFontSize": 15, "clipHeight": 15, "rowPadding": 4, "labelOffset": 4, "labelExpr": "(indexof(datum.label,'P')==0 ? 'Pressure (' : 'AHRR (') + substring(datum.label,1) + ' kPa)'"}}
     }},
    {"data": {"name": "arrows"}, "transform": [{"filter": "datum.panel == 900"}],
     "mark": {"type": "rule", "strokeWidth": 2.5, "color": "black"},
     "encoding": {
      "x": {"field": "tail", "type": "quantitative", "scale": {"domain": [-30, 30], "nice": false, "zero": false},
       "axis": {"title": "Crank Angle (°)", "values": [-30,-27.5,-25,-22.5,-20,-17.5,-15,-12.5,-10,-7.5,-5,-2.5,0,2.5,5,7.5,10,12.5,15,17.5,20,22.5,25,27.5,30], "labelExpr": "datum.value % 5 == 0 ? (datum.value < 0 ? '-' + abs(datum.value) : '' + datum.value) : ''", "labelFontSize": 19, "labelPadding": 13, "titleFontSize": 21, "titlePadding": 13}},
      "x2": {"field": "head"},
      "y": {"field": "p", "type": "quantitative", "scale": {"domain": [0, 90], "nice": false, "zero": false},
       "axis": {"title": "Cylinder Pressure (*100 kPa)", "values": [0,5,10,15,20,25,30,35,40,45,50,55,60,65,70,75,80,85,90], "labelExpr": "datum.value % 10 == 0 ? '' + datum.value : ''", "labelFontSize": 19, "labelPadding": 5, "titleFontSize": 28, "titlePadding": 13}}}},
    {"data": {"name": "arrows"}, "transform": [{"filter": "datum.panel == 900"}],
     "mark": {"type": "point", "filled": true, "color": "black", "size": 130, "opacity": 1},
     "encoding": {
      "x": {"field": "head", "type": "quantitative", "scale": {"domain": [-30, 30], "nice": false, "zero": false},
       "axis": {"title": "Crank Angle (°)", "values": [-30,-27.5,-25,-22.5,-20,-17.5,-15,-12.5,-10,-7.5,-5,-2.5,0,2.5,5,7.5,10,12.5,15,17.5,20,22.5,25,27.5,30], "labelExpr": "datum.value % 5 == 0 ? (datum.value < 0 ? '-' + abs(datum.value) : '' + datum.value) : ''", "labelFontSize": 19, "labelPadding": 13, "titleFontSize": 21, "titlePadding": 13}},
      "y": {"field": "p", "type": "quantitative", "scale": {"domain": [0, 90], "nice": false, "zero": false},
       "axis": {"title": "Cylinder Pressure (*100 kPa)", "values": [0,5,10,15,20,25,30,35,40,45,50,55,60,65,70,75,80,85,90], "labelExpr": "datum.value % 10 == 0 ? '' + datum.value : ''", "labelFontSize": 19, "labelPadding": 5, "titleFontSize": 28, "titlePadding": 13}},
      "shape": {"field": "dir", "type": "nominal", "scale": {"domain": ["left","right"], "range": ["triangle-left","triangle-right"]}, "legend": null}}},
    {"data": {"name": "notes"}, "transform": [{"filter": "datum.panel == 900"}],
     "mark": {"type": "text", "font": "Liberation Serif", "fontWeight": "bold", "fontSize": 15, "color": "black"},
     "encoding": {
      "x": {"field": "a", "type": "quantitative", "scale": {"domain": [-30, 30], "nice": false, "zero": false},
       "axis": {"title": "Crank Angle (°)", "values": [-30,-27.5,-25,-22.5,-20,-17.5,-15,-12.5,-10,-7.5,-5,-2.5,0,2.5,5,7.5,10,12.5,15,17.5,20,22.5,25,27.5,30], "labelExpr": "datum.value % 5 == 0 ? (datum.value < 0 ? '-' + abs(datum.value) : '' + datum.value) : ''", "labelFontSize": 19, "labelPadding": 13, "titleFontSize": 21, "titlePadding": 13}},
      "y": {"field": "p", "type": "quantitative", "scale": {"domain": [0, 90], "nice": false, "zero": false},
       "axis": {"title": "Cylinder Pressure (*100 kPa)", "values": [0,5,10,15,20,25,30,35,40,45,50,55,60,65,70,75,80,85,90], "labelExpr": "datum.value % 10 == 0 ? '' + datum.value : ''", "labelFontSize": 19, "labelPadding": 5, "titleFontSize": 28, "titlePadding": 13}},
      "text": {"field": "t"}}}
   ]},
   {"data": {"name": "d900"}, "transform": [{"filter": "indexof(datum.s,'A')==0"}],
    "mark": {"type": "line", "interpolate": "monotone", "strokeWidth": 1.3},
    "encoding": {
     "x": {"field": "a", "type": "quantitative", "scale": {"domain": [-30, 30], "nice": false, "zero": false},
      "axis": {"title": "Crank Angle (°)", "values": [-30,-27.5,-25,-22.5,-20,-17.5,-15,-12.5,-10,-7.5,-5,-2.5,0,2.5,5,7.5,10,12.5,15,17.5,20,22.5,25,27.5,30], "labelExpr": "datum.value % 5 == 0 ? (datum.value < 0 ? '-' + abs(datum.value) : '' + datum.value) : ''", "labelFontSize": 19, "labelPadding": 13, "titleFontSize": 21, "titlePadding": 13}},
     "y": {"field": "v", "type": "quantitative", "scale": {"domain": [-0.05, 1.035], "nice": false, "zero": false},
      "axis": {"orient": "right", "title": "AHRR (Normalized)", "values": [-0.05,0,0.05,0.1,0.15,0.2,0.25,0.3,0.35,0.4,0.45,0.5,0.55,0.6,0.65,0.7,0.75,0.8,0.85,0.9,0.95,1.0], "labelExpr": "abs(round(datum.value*100)) % 10 == 5 ? (datum.value < 0 ? '-' : '') + format(abs(datum.value), '.2f') : ''", "labelFontSize": 19, "labelPadding": 6, "titleFontSize": 20, "titlePadding": 2}},
     "color": {"field": "s", "type": "nominal", "scale": {"domain": ["P101","P117","P138","A101","A117","A138"], "range": ["#555","#555","#111","#555","#555","#111"]},
      "legend": {"orient": "none", "legendX": 29, "legendY": 16, "title": null, "labelFontSize": 15, "clipHeight": 15, "rowPadding": 4, "labelOffset": 4, "labelExpr": "(indexof(datum.label,'P')==0 ? 'Pressure (' : 'AHRR (') + substring(datum.label,1) + ' kPa)'"}},
     "strokeDash": {"field": "s", "type": "nominal", "scale": {"domain": ["P101","P117","P138","A101","A117","A138"], "range": [[1.5,2.5],[6,3.5],[1,0],[1.5,2.5],[6,3.5],[1,0]]},
      "legend": {"orient": "none", "legendX": 29, "legendY": 16, "title": null, "labelFontSize": 15, "clipHeight": 15, "rowPadding": 4, "labelOffset": 4, "labelExpr": "(indexof(datum.label,'P')==0 ? 'Pressure (' : 'AHRR (') + substring(datum.label,1) + ' kPa)'"}}
    }}
  ],
  "resolve": {"scale": {"y": "independent"}}
 }
 ],
 "spacing": 0,
 "bounds": "flush"
 },
 {
 "hconcat": [
 {"width": 27, "height": 1, "data": {"name": "blank"}, "mark": {"type": "point", "opacity": 0}, "view": {"stroke": null}},
 {
  "width": 436, "height": 363,
  "layer": [
   {"layer": [
    {"data": {"name": "d1300"}, "transform": [{"filter": "indexof(datum.s,'P')==0"}],
     "mark": {"type": "line", "interpolate": "monotone", "strokeWidth": 1.3},
     "encoding": {
      "x": {"field": "a", "type": "quantitative", "scale": {"domain": [-30, 30], "nice": false, "zero": false},
       "axis": {"title": "Crank Angle (°)", "values": [-30,-27.5,-25,-22.5,-20,-17.5,-15,-12.5,-10,-7.5,-5,-2.5,0,2.5,5,7.5,10,12.5,15,17.5,20,22.5,25,27.5,30], "labelExpr": "datum.value % 5 == 0 ? (datum.value < 0 ? '-' + abs(datum.value) : '' + datum.value) : ''", "labelFontSize": 18, "labelPadding": 8, "titleFontSize": 20, "titlePadding": 0}},
      "y": {"field": "v", "type": "quantitative", "scale": {"domain": [0, 90], "nice": false, "zero": false},
       "axis": {"title": "Cylinder Pressure (*100 kPa)", "values": [0,5,10,15,20,25,30,35,40,45,50,55,60,65,70,75,80,85,90], "labelExpr": "datum.value % 10 == 0 ? '' + datum.value : ''", "labelFontSize": 18, "labelPadding": 10, "labelOffset": -11, "titleFontSize": 18, "titlePadding": 16}},
      "color": {"field": "s", "type": "nominal", "scale": {"domain": ["P101","P117","P138","A101","A117","A138"], "range": ["#555","#555","#111","#555","#555","#111"]},
       "legend": {"orient": "none", "legendX": 47, "legendY": 5, "title": null, "labelFontSize": 15, "clipHeight": 15, "rowPadding": 4, "labelOffset": 6, "labelExpr": "(indexof(datum.label,'P')==0 ? 'Pressure (' : 'AHRR (') + substring(datum.label,1) + ' kPa)'"}},
      "strokeDash": {"field": "s", "type": "nominal", "scale": {"domain": ["P101","P117","P138","A101","A117","A138"], "range": [[1.5,2.5],[6,3.5],[1,0],[1.5,2.5],[6,3.5],[1,0]]},
       "legend": {"orient": "none", "legendX": 47, "legendY": 5, "title": null, "labelFontSize": 15, "clipHeight": 15, "rowPadding": 4, "labelOffset": 6, "labelExpr": "(indexof(datum.label,'P')==0 ? 'Pressure (' : 'AHRR (') + substring(datum.label,1) + ' kPa)'"}}
     }},
    {"data": {"name": "arrows"}, "transform": [{"filter": "datum.panel == 1300"}],
     "mark": {"type": "rule", "strokeWidth": 2.5, "color": "black"},
     "encoding": {
      "x": {"field": "tail", "type": "quantitative", "scale": {"domain": [-30, 30], "nice": false, "zero": false},
       "axis": {"title": "Crank Angle (°)", "values": [-30,-27.5,-25,-22.5,-20,-17.5,-15,-12.5,-10,-7.5,-5,-2.5,0,2.5,5,7.5,10,12.5,15,17.5,20,22.5,25,27.5,30], "labelExpr": "datum.value % 5 == 0 ? (datum.value < 0 ? '-' + abs(datum.value) : '' + datum.value) : ''", "labelFontSize": 18, "labelPadding": 8, "titleFontSize": 20, "titlePadding": 0}},
      "x2": {"field": "head"},
      "y": {"field": "p", "type": "quantitative", "scale": {"domain": [0, 90], "nice": false, "zero": false},
       "axis": {"title": "Cylinder Pressure (*100 kPa)", "values": [0,5,10,15,20,25,30,35,40,45,50,55,60,65,70,75,80,85,90], "labelExpr": "datum.value % 10 == 0 ? '' + datum.value : ''", "labelFontSize": 18, "labelPadding": 10, "labelOffset": -11, "titleFontSize": 18, "titlePadding": 16}}}},
    {"data": {"name": "arrows"}, "transform": [{"filter": "datum.panel == 1300"}],
     "mark": {"type": "point", "filled": true, "color": "black", "size": 130, "opacity": 1},
     "encoding": {
      "x": {"field": "head", "type": "quantitative", "scale": {"domain": [-30, 30], "nice": false, "zero": false},
       "axis": {"title": "Crank Angle (°)", "values": [-30,-27.5,-25,-22.5,-20,-17.5,-15,-12.5,-10,-7.5,-5,-2.5,0,2.5,5,7.5,10,12.5,15,17.5,20,22.5,25,27.5,30], "labelExpr": "datum.value % 5 == 0 ? (datum.value < 0 ? '-' + abs(datum.value) : '' + datum.value) : ''", "labelFontSize": 18, "labelPadding": 8, "titleFontSize": 20, "titlePadding": 0}},
      "y": {"field": "p", "type": "quantitative", "scale": {"domain": [0, 90], "nice": false, "zero": false},
       "axis": {"title": "Cylinder Pressure (*100 kPa)", "values": [0,5,10,15,20,25,30,35,40,45,50,55,60,65,70,75,80,85,90], "labelExpr": "datum.value % 10 == 0 ? '' + datum.value : ''", "labelFontSize": 18, "labelPadding": 10, "labelOffset": -11, "titleFontSize": 18, "titlePadding": 16}},
      "shape": {"field": "dir", "type": "nominal", "scale": {"domain": ["left","right"], "range": ["triangle-left","triangle-right"]}, "legend": null}}},
    {"data": {"name": "notes"}, "transform": [{"filter": "datum.panel == 1300"}],
     "mark": {"type": "text", "font": "Liberation Serif", "fontWeight": "bold", "fontSize": 15, "color": "black"},
     "encoding": {
      "x": {"field": "a", "type": "quantitative", "scale": {"domain": [-30, 30], "nice": false, "zero": false},
       "axis": {"title": "Crank Angle (°)", "values": [-30,-27.5,-25,-22.5,-20,-17.5,-15,-12.5,-10,-7.5,-5,-2.5,0,2.5,5,7.5,10,12.5,15,17.5,20,22.5,25,27.5,30], "labelExpr": "datum.value % 5 == 0 ? (datum.value < 0 ? '-' + abs(datum.value) : '' + datum.value) : ''", "labelFontSize": 18, "labelPadding": 8, "titleFontSize": 20, "titlePadding": 0}},
      "y": {"field": "p", "type": "quantitative", "scale": {"domain": [0, 90], "nice": false, "zero": false},
       "axis": {"title": "Cylinder Pressure (*100 kPa)", "values": [0,5,10,15,20,25,30,35,40,45,50,55,60,65,70,75,80,85,90], "labelExpr": "datum.value % 10 == 0 ? '' + datum.value : ''", "labelFontSize": 18, "labelPadding": 10, "labelOffset": -11, "titleFontSize": 18, "titlePadding": 16}},
      "text": {"field": "t"}}}
   ]},
   {"data": {"name": "d1300"}, "transform": [{"filter": "indexof(datum.s,'A')==0"}],
    "mark": {"type": "line", "interpolate": "monotone", "strokeWidth": 1.3},
    "encoding": {
     "x": {"field": "a", "type": "quantitative", "scale": {"domain": [-30, 30], "nice": false, "zero": false},
      "axis": {"title": "Crank Angle (°)", "values": [-30,-27.5,-25,-22.5,-20,-17.5,-15,-12.5,-10,-7.5,-5,-2.5,0,2.5,5,7.5,10,12.5,15,17.5,20,22.5,25,27.5,30], "labelExpr": "datum.value % 5 == 0 ? (datum.value < 0 ? '-' + abs(datum.value) : '' + datum.value) : ''", "labelFontSize": 18, "labelPadding": 8, "titleFontSize": 20, "titlePadding": 0}},
     "y": {"field": "v", "type": "quantitative", "scale": {"domain": [-0.05, 1.02], "nice": false, "zero": false},
      "axis": {"orient": "right", "title": "AHRR (Normalized)", "values": [-0.05,0,0.05,0.1,0.15,0.2,0.25,0.3,0.35,0.4,0.45,0.5,0.55,0.6,0.65,0.7,0.75,0.8,0.85,0.9,0.95,1.0], "labelExpr": "abs(round(datum.value*100)) % 10 == 5 ? (datum.value < 0 ? '-' : '') + format(abs(datum.value), '.2f') : ''", "labelFontSize": 18, "labelPadding": 9, "labelOffset": -11, "titleFontSize": 21, "titlePadding": 4}},
     "color": {"field": "s", "type": "nominal", "scale": {"domain": ["P101","P117","P138","A101","A117","A138"], "range": ["#555","#555","#111","#555","#555","#111"]},
      "legend": {"orient": "none", "legendX": 47, "legendY": 5, "title": null, "labelFontSize": 15, "clipHeight": 15, "rowPadding": 4, "labelOffset": 6, "labelExpr": "(indexof(datum.label,'P')==0 ? 'Pressure (' : 'AHRR (') + substring(datum.label,1) + ' kPa)'"}},
     "strokeDash": {"field": "s", "type": "nominal", "scale": {"domain": ["P101","P117","P138","A101","A117","A138"], "range": [[1.5,2.5],[6,3.5],[1,0],[1.5,2.5],[6,3.5],[1,0]]},
      "legend": {"orient": "none", "legendX": 47, "legendY": 5, "title": null, "labelFontSize": 15, "clipHeight": 15, "rowPadding": 4, "labelOffset": 6, "labelExpr": "(indexof(datum.label,'P')==0 ? 'Pressure (' : 'AHRR (') + substring(datum.label,1) + ' kPa)'"}}
    }}
  ],
  "resolve": {"scale": {"y": "independent"}}
 }
 ],
 "spacing": 0,
 "bounds": "flush"
 }
 ]
}
]
}
